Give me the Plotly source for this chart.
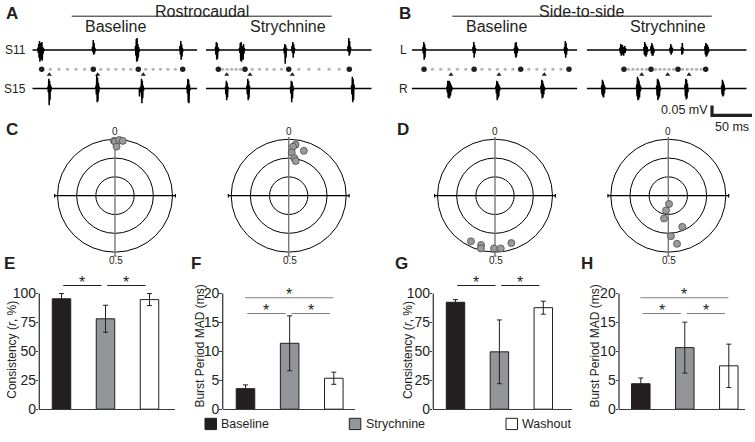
import numpy as np
import plotly.graph_objects as go

W, H = 755, 442
FONT = "Arial, 'Liberation Sans', Helvetica, sans-serif"
INK = "#231f20"

# ------------------------------------------------------------------ data
conditions = ["Baseline", "Strychnine", "Washout"]
bar_colors = ["#231f20", "#939598", "#ffffff"]

# E  rostrocaudal consistency (r, %)
rc_consistency = [95.5, 78.2, 94.8]
rc_consistency_err = [4.5, 11.7, 5.2]
# F  rostrocaudal burst period MAD (ms)
rc_mad = [3.55, 11.4, 5.35]
rc_mad_err = [0.65, 4.75, 1.05]
# G  side-to-side consistency (r, %)
ss_consistency = [92.5, 49.6, 87.8]
ss_consistency_err = [2.3, 27.6, 5.6]
# H  side-to-side burst period MAD (ms)
ss_mad = [4.4, 10.65, 7.5]
ss_mad_err = [1.0, 4.4, 3.75]

consistency_sig = [(0, 1), (1, 2)]
mad_sig = [(0, 2), (0, 1), (1, 2)]
consistency_ticks = [0, 25, 50, 75, 100]
mad_ticks = [0, 5, 10, 15, 20]

# polar phase plots: phase (cycles) and vector length r
c_base_phase = [0.997, 0.0, 0.012, 0.022, 0.005]
c_base_r = [0.97, 0.96, 0.99, 0.98, 0.87]
c_str_phase = [0.021, 0.014, 0.051, 0.011, 0.023, 0.031]
c_str_r = [0.913, 0.873, 0.837, 0.767, 0.673, 0.626]
d_base_phase = [0.576, 0.543, 0.541, 0.503, 0.483, 0.448]
d_base_r = [0.91, 0.906, 0.965, 0.934, 0.94, 0.886]
d_str_phase = [0.486, 0.524, 0.529, 0.434, 0.49, 0.472]
d_str_r = [0.147, 0.264, 0.41, 0.603, 0.718, 0.865]
polar_rings = [1 / 3, 2 / 3, 1.0]

# extracellular recordings: burst onset (ms) and spike amplitudes (uV, 0.5 ms apart)
SAMPLE_MS = 0.5
a_base_s11 = [
    (7.0, [10, -15, 30, -40, 45, -60, 35, -50, 20, -30, 40, -55, 15, -20, 8, -5]),
    (75.2, [15, -10, 50, -25, 35, -20, 10, -5]),
    (129.0, [20, -30, 55, -60, 60, -55, 30, -40, 15, -10]),
    (184.6, [20, -25, 45, -50, 30, -35, 10, -8]),
]
a_base_s15 = [
    (19.6, [10, -20, 50, -85, 40, -60, 20, -15, 8]),
    (79.6, [15, -30, 70, -70, 55, -65, 30, -20, 10]),
    (134.0, [-40, 5, 0, 10, -20, 50, -75, 40, -50, 15, -10]),
    (193.4, [15, -25, 50, -70, 45, -75, 20, -10]),
]
a_str_s11 = [
    (11.9, [15, -25, 40, -50, 35, -45, 15, -10, 5]),
    (41.9, [10, -15, 35, -55, 40, -60, 20, -30, 15, -50, 30, -20, 8]),
    (97.5, [10, -20, 30, -70, 25, -40, 10]),
    (107.5, [20, -15, 40, -40, 30, -20, 10]),
    (177.5, [20, -10, 60, -30, 45, -20, 15]),
]
a_str_s15 = [
    (24.4, [10, -30, 40, -60, 30, -45, 10]),
    (51.2, [15, -30, 50, -60, 40, -50, 15]),
    (105.6, [10, -25, 40, -70, 35, -50, 15, -10]),
    (181.9, [15, -30, 60, -70, 50, -60, 20]),
]
b_base_l = [
    (14.1, [15, -20, 40, -50, 30, -40, 10]),
    (76.6, [15, -15, 40, -40, 25, -20, 8]),
    (128.5, [10, -20, 35, -40, 40, -35, 20, -15, 8]),
    (191.0, [15, -20, 45, -40, 35, -25, 10]),
]
b_base_r = [
    (44.1, [10, -20, 40, -45, 35, -50, 40, -45, 30, -35, 20, -15, 10, -5]),
    (105.4, [15, -25, 40, -60, 35, -50, 25, -40, 15, -10, 5]),
    (161.6, [15, -25, 45, -50, 40, -45, 25, -30, 10, -8]),
]
b_str_l = [
    (41.6, [10, -15, 30, -30, 20, -25, 25, -20, 15, -30, 10, -10, 20, -15, 8]),
    (71.6, [15, -25, 40, -30, 30, -35, 20, -25, 15, -10]),
    (80.4, [20, -20, 35, -30, 25, -30, 10, -15]),
    (104.1, [10, -15, 30, -25, 20, -15, 8]),
    (118.5, [15, -25, 35, -20, 10]),
    (147.9, [20, -25, 35, -35, 30, -30, 25, -20, 15, -10]),
]
b_str_r = [
    (18.7, [15, -30, 45, -40, 35, -45, 20, -25, 10]),
    (62.5, [20, -40, 60, -60, 50, -55, 40, -45, 20, -15, 10]),
    (87.5, [15, -35, 50, -60, 45, -50, 35, -40, 15, -10]),
    (122.9, [20, -40, 50, -55, 45, -50, 25, -20]),
    (168.7, [15, -30, 45, -40, 35, -35, 20, -10]),
]
# cycle onsets (large dots) and follower-burst onsets (triangles), ms
a_base_cycles = [11.75, 76.25, 132.5, 188.0]
a_base_follow = [21.25, 81.75, 138.75]
a_str_cycles = [15.4, 48.75, 103.4, 179.1]
a_str_follow = [25.9, 55.0, 107.9]
b_base_cycles = [15.4, 78.0, 136.25, 196.6]
b_base_follow = [49.1, 109.1, 165.75]
b_str_cycles = [46.6, 80.4, 114.1, 148.75]
b_str_follow = [68.75, 101.25, 127.9]
record_ms = [206.25, 207.1, 207.0, 200.0]
scale_ms = 50
scale_uv = 50

# ------------------------------------------------------------------ helpers
def xd(a, b):
    return [a / W, b / W]


def yd(top, bottom):
    return [1 - bottom / H, 1 - top / H]


def hidden(**kw):
    d = dict(visible=False, showgrid=False, zeroline=False, fixedrange=True)
    d.update(kw)
    return d


fig = go.Figure()
layout = {}
shapes = []
annots = []


def ann(x, y, text, size=12, xref="paper", yref="paper", px=True, **kw):
    if px:
        x, y = x / W, 1 - y / H
    d = dict(x=x, y=y, xref=xref, yref=yref, text=text, showarrow=False,
             xanchor="center", yanchor="middle",
             font=dict(family=FONT, size=size, color=INK))
    d.update(kw)
    annots.append(d)


# ------------------------------------------------------------------ traces (A, B)
TRACE_OFF = 98.5
trace_panels = [
    (1, (32.3, 197.3), a_base_s11, a_base_s15, a_base_cycles, a_base_follow, record_ms[0]),
    (2, (206.0, 371.7), a_str_s11, a_str_s15, a_str_cycles, a_str_follow, record_ms[1]),
    (3, (411.7, 577.3), b_base_l, b_base_r, b_base_cycles, b_base_follow, record_ms[2]),
    (4, (586.7, 746.7), b_str_l, b_str_r, b_str_cycles, b_str_follow, record_ms[3]),
]


def build(bursts, T, off):
    xs, ys = [0.0], [off]
    for onset, amps in bursts:
        xs.append(onset - 0.3)
        ys.append(off)
        for i, a in enumerate(amps):
            xs.append(onset + i * SAMPLE_MS)
            ys.append(off + a)
        xs.append(onset + len(amps) * SAMPLE_MS)
        ys.append(off)
    xs.append(T)
    ys.append(off)
    return xs, ys


for k, (x0, x1), top, bot, cyc, fol, T in trace_panels:
    xa, ya = f"x{k}", f"y{k}"
    for bursts, off in ((top, TRACE_OFF), (bot, -TRACE_OFF)):
        xs, ys = build(bursts, T, off)
        fig.add_trace(go.Scatter(x=xs, y=ys, mode="lines", xaxis=xa, yaxis=ya,
                                 line=dict(color="black", width=1.5), hoverinfo="skip"))
    gx = []
    for a, b in zip(cyc[:-1], cyc[1:]):
        gx.extend(np.linspace(a, b, 7)[1:-1])
    fig.add_trace(go.Scatter(x=gx, y=[0] * len(gx), mode="markers", xaxis=xa, yaxis=ya,
                             marker=dict(size=3.2, color="#b3b3b3"), hoverinfo="skip"))
    fig.add_trace(go.Scatter(x=cyc, y=[0] * len(cyc), mode="markers", xaxis=xa, yaxis=ya,
                             marker=dict(size=5.5, color=INK), hoverinfo="skip"))
    fig.add_trace(go.Scatter(x=fol, y=[-27] * len(fol), mode="markers", xaxis=xa, yaxis=ya,
                             marker=dict(size=4.5, color=INK, symbol="triangle-up"),
                             hoverinfo="skip"))
    layout[f"xaxis{k}"] = hidden(domain=xd(x0, x1), range=[0, T], anchor=ya)
    layout[f"yaxis{k}"] = hidden(domain=yd(30, 111), range=[-202.5, 202.5], anchor=xa)

# scale bar
fig.add_trace(go.Scatter(x=[0, 0, scale_ms], y=[scale_uv, 0, 0], mode="lines",
                         xaxis="x5", yaxis="y5", line=dict(color=INK, width=3.2),
                         hoverinfo="skip"))
layout["xaxis5"] = hidden(domain=xd(706, 755), range=[-7.5, 53.75], anchor="y5")
layout["yaxis5"] = hidden(domain=yd(100, 125), range=[-37.5, 87.5], anchor="x5")
ann(-2.5, 28, "0.05 mV", size=12.5, xref="x5", yref="y5", px=False, xanchor="right")
ann(25, -13, "50 ms", size=12.5, xref="x5", yref="y5", px=False, yanchor="top")

# headers
ann(201.7, 11.5, "Rostrocaudal", size=16)
ann(581.7, 11.5, "Side-to-side", size=16)
shapes.append(dict(type="line", xref="paper", yref="paper", x0=71.7 / W, x1=331.7 / W,
                   y0=1 - 16.5 / H, y1=1 - 16.5 / H, line=dict(color=INK, width=1)))
shapes.append(dict(type="line", xref="paper", yref="paper", x0=452.3 / W, x1=711.7 / W,
                   y0=1 - 16.5 / H, y1=1 - 16.5 / H, line=dict(color=INK, width=1)))
for cx, t in ((115, "Baseline"), (288.3, "Strychnine"), (496.7, "Baseline"), (668.3, "Strychnine")):
    ann(cx, 27, t, size=16)
ann(15, 50.7, "S11", size=12)
ann(15, 90.2, "S15", size=12)
ann(403, 50.7, "L", size=12)
ann(403, 90.2, "R", size=12)

# ------------------------------------------------------------------ polar plots (C, D)
R_PX = 57.5
HALF = 1.25
polar_panels = [
    (6, 115.0, c_base_phase, c_base_r),
    (7, 288.7, c_str_phase, c_str_r),
    (8, 495.0, d_base_phase, d_base_r),
    (9, 668.3, d_str_phase, d_str_r),
]
CY = 199.3
for k, cx, ph, rr in polar_panels:
    xa, ya = f"x{k}", f"y{k}"
    hp = HALF * R_PX
    layout[f"xaxis{k}"] = hidden(domain=xd(cx - hp, cx + hp), range=[-HALF, HALF], anchor=ya)
    layout[f"yaxis{k}"] = hidden(domain=yd(CY - hp, CY + hp), range=[-HALF, HALF], anchor=xa)
    for r in polar_rings:
        shapes.append(dict(type="circle", xref=xa, yref=ya, x0=-r, x1=r, y0=-r, y1=r,
                           line=dict(color="black", width=1), layer="below"))
    shapes.append(dict(type="line", xref=xa, yref=ya, x0=-1.05, x1=1.05, y0=0, y1=0,
                       line=dict(color="black", width=1.2), layer="below"))
    for sx in (-1.05, 1.05):
        shapes.append(dict(type="line", xref=xa, yref=ya, x0=sx, x1=sx, y0=-0.03, y1=0.03,
                           line=dict(color="black", width=1.2), layer="below"))
    shapes.append(dict(type="line", xref=xa, yref=ya, x0=0, x1=0, y0=1.04, y1=-1.07,
                       line=dict(color="#7a7a7a", width=1.4), layer="below"))
    shapes.append(dict(type="line", xref=xa, yref=ya, x0=-0.03, x1=0.03, y0=-1.07, y1=-1.07,
                       line=dict(color="#7a7a7a", width=1.2), layer="below"))
    ang = 2 * np.pi * np.asarray(ph)
    rv = np.asarray(rr)
    fig.add_trace(go.Scatter(x=rv * np.sin(ang), y=rv * np.cos(ang), mode="markers",
                             xaxis=xa, yaxis=ya, hoverinfo="skip",
                             marker=dict(size=7, color="#9a9a9a",
                                         line=dict(color="#4d4d4d", width=0.8))))
    ann(0, 1.14, "0", size=10, xref=xa, yref=ya, px=False)
    ann(0.02, -1.15, "0.5", size=10, xref=xa, yref=ya, px=False)

# ------------------------------------------------------------------ bar charts (E-H)
Y0_PX, YTOP_PX = 416.7, 272.0
bar_panels = [
    (10, 39.3, 175.0, 61.5, 44.0, rc_consistency, rc_consistency_err, consistency_ticks,
     consistency_sig, INK, [107.0, 107.0]),
    (11, 222.7, 355.0, 245.5, 44.15, rc_mad, rc_mad_err, mad_ticks, mad_sig, "#7f7f7f",
     [19.27, 16.55, 16.55]),
    (12, 433.3, 571.7, 455.5, 43.9, ss_consistency, ss_consistency_err, consistency_ticks,
     consistency_sig, INK, [107.0, 107.0]),
    (13, 619.0, 745.0, 640.8, 44.0, ss_mad, ss_mad_err, mad_ticks, mad_sig, "#7f7f7f",
     [19.27, 16.55, 16.55]),
]
for k, ax0, ax1, c0, sp, vals, errs, ticks, sig, scol, levels in bar_panels:
    xa, ya = f"x{k}", f"y{k}"
    top = ticks[-1]
    units_per_px = top / 117.7
    yr_top = (Y0_PX - YTOP_PX) * units_per_px
    fig.add_trace(go.Bar(x=[0, 1, 2], y=vals, xaxis=xa, yaxis=ya, width=0.42,
                         marker=dict(color=bar_colors, line=dict(color=INK, width=1)),
                         error_y=dict(type="data", array=errs, color=INK, thickness=1, width=2.5),
                         hoverinfo="skip"))
    layout[f"xaxis{k}"] = dict(domain=xd(ax0, ax1), anchor=ya, fixedrange=True,
                               range=[(ax0 - c0) / sp, (ax1 - c0) / sp],
                               showline=True, linecolor="#3a3a3a", linewidth=1.3,
                               showticklabels=False, ticks="", showgrid=False, zeroline=False)
    layout[f"yaxis{k}"] = dict(domain=yd(YTOP_PX, Y0_PX), anchor=xa, fixedrange=True,
                               range=[0, yr_top], tickvals=ticks, ticks="outside", ticklen=2.5,
                               tickcolor="#3a3a3a", showline=False, showgrid=False,
                               zeroline=False, ticklabelstandoff=-3,
                               tickfont=dict(family=FONT, size=14, color=INK))
    shapes.append(dict(type="line", xref=f"{xa} domain", yref=ya, x0=0, x1=0, y0=0, y1=top,
                       line=dict(color="#3a3a3a", width=1.3)))
    for (a, b), lev in zip(sig, levels):
        if b - a > 1:
            s0, s1 = a - 0.01, b - 0.01
        else:
            s0, s1 = a + 0.04, b - 0.09
        shapes.append(dict(type="line", xref=xa, yref=ya, x0=s0, x1=s1, y0=lev, y1=lev,
                           line=dict(color=scol, width=1.1)))
        annots.append(dict(x=(s0 + s1) / 2, y=lev, xref=xa, yref=ya, text="*",
                           showarrow=False, xanchor="center", yanchor="middle", yshift=3,
                           font=dict(family=FONT, size=16, color=INK)))

ann(11.7, 356.5, "Consistency (<i>r</i>, %)", size=12, textangle=-90)
ann(200.0, 353.0, "Burst Period MAD (ms)", size=12, textangle=-90)
ann(408.0, 356.5, "Consistency (<i>r</i>, %)", size=12, textangle=-90)
ann(595.0, 353.0, "Burst Period MAD (ms)", size=12, textangle=-90)

# legend
for (lx, tx), name, col in zip(((205.0, 219.0), (349.3, 363.5), (506.0, 520.0)),
                               conditions, bar_colors):
    shapes.append(dict(type="rect", xref="paper", yref="paper", x0=lx / W, x1=(lx + 11.5) / W,
                       y0=1 - 437.5 / H, y1=1 - 426 / H,
                       fillcolor=col, line=dict(color=INK, width=1)))
    ann(tx, 431.7, name, size=12.5, xanchor="left")

# panel letters
for x, y, t in ((12, 13.5, "A"), (405, 13.5, "B"), (11.7, 131.7, "C"), (403.3, 131.5, "D"),
                (9, 268, "E"), (196, 268, "F"), (401.7, 268, "G"), (586.7, 268, "H")):
    ann(x, y, f"<b>{t}</b>", size=17)

fig.update_layout(
    width=W, height=H, margin=dict(l=0, r=0, t=0, b=0),
    paper_bgcolor="white", plot_bgcolor="white", showlegend=False,
    font=dict(family=FONT, color=INK), bargap=0,
    shapes=shapes, annotations=annots, **layout,
)
fig.write_html("out.html", config={"displayModeBar": False, "staticPlot": True},
               post_script="document.body.style.margin='0';"
                           "document.body.style.overflow='hidden';")
